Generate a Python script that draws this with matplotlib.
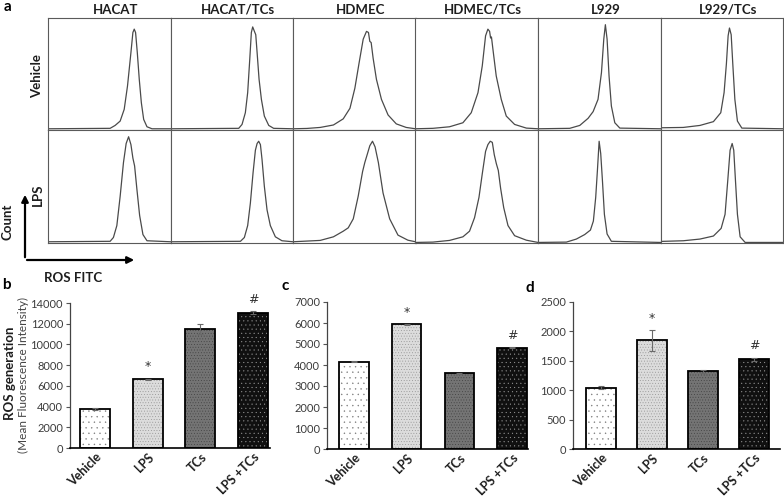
import numpy as np
import matplotlib
matplotlib.use("Agg")
import matplotlib.pyplot as plt
from matplotlib.transforms import ScaledTranslation

plt.rcParams['font.family'] = ['Lato', 'DejaVu Sans']
plt.rcParams['hatch.linewidth'] = 0.25

# Panel a: titles
CELL_LINES = ["HACAT", "HACAT/TCs", "HDMEC", "HDMEC/TCs", "L929", "L929/TCs"]
TREATMENTS = ["Vehicle", "LPS"]

# Panel a: flow cytometry traces
# (FITC position in % of frame width, count in % of frame height)
hacat_vehicle = [(0, 0.6), (50.7, 1), (54.8, 3.6), (58.9, 7.5), (62.2, 18), (64.9, 39), (67.7, 69),
                 (69.3, 87), (70.4, 90), (71.5, 87), (72.9, 69), (74.5, 45), (76.2, 24), (78.1, 9),
                 (80.8, 2.4), (84.9, 0.6), (100, 0.6)]
hacat_tcs_vehicle = [(0, 0.6), (55.7, 1), (58.4, 4.5), (61.1, 15), (63.0, 33), (64.7, 63), (66.0, 87),
                     (67.1, 92), (68.5, 88), (69.6, 85), (70.7, 69), (72.3, 45), (74.2, 27), (76.6, 12),
                     (80.2, 3.6), (84.2, 1), (100, 0.6)]
hdmec_vehicle = [(0, 0.6), (11.4, 0.9), (22.2, 1.8), (33, 4), (41, 9.5), (46.5, 19), (50.5, 37), (54, 60),
                 (57.3, 81), (60, 88), (61.6, 87), (62.7, 79), (63.8, 78), (65.4, 64), (68.1, 45),
                 (72.2, 27), (77.6, 13), (84.3, 5), (92.4, 1.8), (100, 0.6)]
hdmec_tcs_vehicle = [(0, 0.6), (14.2, 1), (27.8, 2.4), (38.7, 6), (45.5, 15), (51, 33), (54.5, 57),
                     (57.2, 84), (59.1, 90), (60.5, 88), (61.3, 82), (62, 83), (63.2, 72), (65.9, 48),
                     (70, 27), (74.1, 12), (80.9, 4.5), (90.5, 1.2), (100, 0.6)]
l929_vehicle = [(0, 0.6), (25.9, 1), (34.1, 3.6), (40.9, 10), (45, 16), (49, 27), (51.8, 51), (53.7, 81),
                (55.0, 94), (56.4, 81), (58, 48), (59.9, 21), (62.7, 6), (66.8, 1.2), (100, 0.6)]
l929_tcs_vehicle = [(0, 1.5), (18.6, 1.8), (32.2, 3.6), (43.2, 7), (49.2, 15), (51.9, 33), (53.8, 59),
                    (55.2, 84), (56.3, 91), (57.7, 85), (59, 59), (60.7, 27), (62.8, 7.5), (66.4, 1.2),
                    (100, 0.6)]

hacat_lps = [(0, 0.6), (50.7, 1), (53.4, 4.4), (56.2, 15), (58.9, 41), (61.6, 71), (63.8, 88), (65.8, 94),
             (67.7, 87), (69.3, 75), (70.7, 68), (72.6, 47), (74.8, 24), (77.5, 7), (80.8, 1.5), (100, 0.6)]
hacat_tcs_lps = [(0, 0.6), (57.1, 1), (60.3, 4.4), (63, 15), (65.2, 35), (67.4, 62), (69.3, 82), (70.7, 88),
                 (72, 90), (73.4, 87), (74.7, 74), (76.6, 50), (78.8, 29), (81.5, 15), (85.6, 5),
                 (91, 1.5), (100, 0.6)]
hdmec_lps = [(0, 0.6), (22.2, 1.8), (33, 5), (41, 10), (45.1, 13), (49.2, 21), (53.2, 41), (56.8, 63),
             (58.6, 71), (60.8, 79), (62.7, 86), (64.9, 90), (67, 85), (69.7, 71), (73.5, 44), (78.9, 21),
             (85.7, 6.5), (93.8, 2), (100, 0.6)]
hdmec_tcs_lps = [(0, 0), (14.2, 0.3), (27.8, 1.8), (38.7, 5), (44.1, 10), (48.2, 22), (51.8, 40), (54.5, 61),
                 (57.2, 81), (59.1, 87), (61, 90), (62.7, 89), (64.3, 78), (66, 70), (67.6, 64), (69.5, 48),
                 (72, 31), (75.5, 15), (80.9, 6), (90.5, 2), (100, 0)]
l929_lps = [(0, 0), (23.2, 0.3), (31.3, 3), (38.1, 7), (42.8, 11), (45.2, 19), (47.1, 40), (48.5, 64),
            (49.9, 90), (51.2, 79), (52.6, 55), (54.2, 25), (56.4, 7.5), (59.9, 1), (100, 0)]
l929_tcs_lps = [(0, 0.9), (18.6, 1.5), (32.2, 3), (43.2, 5.7), (49.5, 12.5), (52.7, 25), (54.9, 55),
                (56.8, 82), (58.5, 88), (59.8, 82), (61.2, 55), (62.8, 25), (65, 5), (69.1, 0), (100, 0)]

# Panels b-d: ROS generation (mean fluorescence intensity)
GROUPS = ["Vehicle", "LPS", "TCs", "LPS +TCs"]
MARKS = ["", "*", "", "#"]
ros_b = [3765, 6630, 11490, 13060]
err_b = [80, 60, 480, 150]
ros_c = [4150, 5930, 3600, 4815]
err_c = [30, 25, 25, 20]
ros_d = [1045, 1850, 1325, 1525]
err_d = [20, 175, 25, 30]

W, H = 784, 498
fig = plt.figure(figsize=(W / 100, H / 100), dpi=100)
fig.patch.set_facecolor("white")
TXT = "#1e1e1e"


def px_axes(x0, y0, x1, y1):
    # place an axes using pixel coordinates measured from the top-left corner
    return fig.add_axes([x0 / W, 1 - y1 / H, (x1 - x0) / W, (y1 - y0) / H])


# ---- panel a: histogram grid ----
rows = [
    [hacat_vehicle, hacat_tcs_vehicle, hdmec_vehicle, hdmec_tcs_vehicle, l929_vehicle, l929_tcs_vehicle],
    [hacat_lps, hacat_tcs_lps, hdmec_lps, hdmec_tcs_lps, l929_lps, l929_tcs_lps],
]
col_w = 122.5
row_edges = [(18, 130), (130, 243)]
for r, curves in enumerate(rows):
    y0, y1 = row_edges[r]
    for c, pts in enumerate(curves):
        x0 = 48 + c * col_w
        ax = px_axes(x0, y0, x0 + col_w, y1)
        pts = np.array(pts)
        ax.plot(pts[:, 0], pts[:, 1], color="#4a4a4a", lw=0.9)
        ax.set_xlim(0, 100)
        ax.set_ylim(-0.5, 100)
        ax.set_xticks([])
        ax.set_yticks([])
        for sp in ax.spines.values():
            sp.set_color("#5a5a5a")
            sp.set_linewidth(0.8)

for c, name in enumerate(CELL_LINES):
    fig.text((48 + c * col_w + col_w / 2 + 6) / W, 1 - 10 / H, name, ha="center", va="center",
             fontsize=9.5, fontweight="bold", color=TXT)

fig.text(37 / W, 1 - 76 / H, TREATMENTS[0], rotation=90, ha="center", va="center",
         fontsize=9.5, fontweight="bold", color=TXT)
fig.text(38 / W, 1 - 195 / H, TREATMENTS[1], rotation=90, ha="center", va="center",
         fontsize=9.5, fontweight="bold", color=TXT)

# axis key arrows
fig.add_artist(matplotlib.patches.FancyArrowPatch((25 / W, 1 - 260 / H), (25 / W, 1 - 192 / H),
                                                  transform=fig.transFigure, arrowstyle="-|>,head_length=4,head_width=2",
                                                  color="black", lw=1.6))
fig.add_artist(matplotlib.patches.FancyArrowPatch((24.2 / W, 1 - 260 / H), (137 / W, 1 - 260 / H),
                                                  transform=fig.transFigure, arrowstyle="-|>,head_length=4,head_width=2",
                                                  color="black", lw=1.6))
fig.text(8 / W, 1 - 222 / H, "Count", rotation=90, ha="center", va="center",
         fontsize=9.5, fontweight="bold", color=TXT)
fig.text(73 / W, 1 - 278 / H, "ROS FITC", ha="center", va="center",
         fontsize=9.5, fontweight="bold", color=TXT)

# panel letters
for letter, (x, y) in zip("abcd", [(7, 7), (6, 285), (285, 286), (530, 288)]):
    fig.text(x / W, 1 - y / H, letter, ha="center", va="center", fontsize=11, fontweight="bold")

# ---- panels b-d: bar charts ----
fills = ["white", "#dcdcdc", "#747474", "#101010"]
hatch_cols = ["#7a7a7a", "#8a8a8a", "#3a3a3a", "#9a9a9a"]
hatches = ["...", "......", "......", "...."]


def bar_panel(box, xlim, values, errors, ymax, step, width):
    ax = px_axes(*box)
    x = np.arange(len(GROUPS))
    ax.bar(x, values, width, color=fills, hatch=hatches, edgecolor=hatch_cols, linewidth=0, zorder=2)
    ax.bar(x, values, width, fill=False, edgecolor="black", linewidth=1.3, zorder=3)
    ax.errorbar(x, values, yerr=errors, fmt="none", ecolor="#6a6a6a", elinewidth=0.8,
                capsize=2.5, capthick=0.8, zorder=4)
    for xi, v, e, m in zip(x, values, errors, MARKS):
        if m:
            ax.annotate(m, (xi, v + e), xytext=(0, 8.5), textcoords="offset points",
                        ha="center", va="center", fontsize=9, family="DejaVu Sans", color="#333333")
    ax.set_xlim(*xlim)
    ax.set_ylim(0, ymax)
    ax.set_yticks(np.arange(0, ymax + 1, step))
    ax.set_xticks(x)
    ax.set_xticklabels(GROUPS, rotation=45, ha="right", rotation_mode="anchor",
                       fontsize=9, fontweight="bold", color=TXT)
    shift = ScaledTranslation(5 / 72, 0, fig.dpi_scale_trans)
    for lab in ax.get_xticklabels():
        lab.set_transform(lab.get_transform() + shift)
    ax.tick_params(axis="x", length=0, pad=2)
    ax.tick_params(axis="y", length=3, width=0.8, color="#555555", labelsize=8,
                   labelcolor="#3c3c3c", pad=2)
    ax.spines["top"].set_visible(False)
    ax.spines["right"].set_visible(False)
    ax.spines["left"].set_color("#444444")
    ax.spines["left"].set_linewidth(0.9)
    ax.spines["bottom"].set_color("black")
    ax.spines["bottom"].set_linewidth(1.2)
    return ax


bar_panel((70, 303, 270, 448), (-0.47, 3.32), ros_b, err_b, 14000, 2000, 0.57)
bar_panel((327, 302, 528, 449), (-0.51, 3.30), ros_c, err_c, 7000, 1000, 0.56)
bar_panel((573, 302, 780, 449), (-0.55, 3.51), ros_d, err_d, 2500, 500, 0.59)

fig.text(10 / W, 1 - 373 / H, "ROS generation", rotation=90, ha="center", va="center",
         fontsize=9.5, fontweight="bold", color=TXT)
fig.text(23 / W, 1 - 375 / H, "(Mean Fluorescence Intensity)", rotation=90, ha="center", va="center",
         fontsize=8.5, color="#444444")

fig.savefig("out.png", dpi=100)
